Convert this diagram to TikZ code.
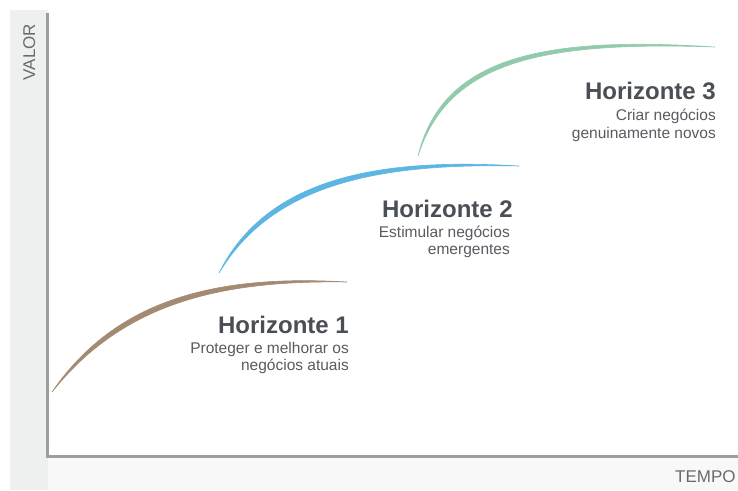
\documentclass[tikz,border=0pt]{standalone}
\usepackage{fontspec}
\setmainfont{Liberation Sans}
\definecolor{axisgray}{HTML}{9B9E9D}
\definecolor{stripgray}{HTML}{EEEFEF}
\definecolor{bottomgray}{HTML}{F8F8F8}
\definecolor{titlegray}{HTML}{4A4F55}
\definecolor{subgray}{HTML}{585C61}
\definecolor{labelgray}{HTML}{686B6D}
\definecolor{hbrown}{HTML}{A48A72}
\definecolor{hblue}{HTML}{5DB6E2}
\definecolor{hgreen}{HTML}{92CBAC}
\tikzset{
  htitle/.style={anchor=base east, inner sep=0pt, text=titlegray, font=\fontsize{24}{28}\selectfont\bfseries},
  hsub/.style={anchor=base east, inner sep=0pt, text=subgray, font=\fontsize{15.5}{18}\selectfont},
  axlabel/.style={inner sep=0pt, text=labelgray, font=\fontsize{17}{20}\selectfont},
  brush/.style={line width=0.6pt, line join=round},
  axisline/.style={draw=axisgray, line width=3pt}
}
\begin{document}
\begin{tikzpicture}[x=1pt,y=-1pt]
\useasboundingbox (0,0) rectangle (738,490);
\fill[white] (0,0) rectangle (738,490);
% background strips
\fill[bottomgray] (10,10) rectangle (738,490);
\fill[stripgray] (10,10) rectangle (48,490);
\fill[white] (48,10) rectangle (738,456);
% axes
\coordinate (top) at (47,13);
\coordinate (origin) at (47,456);
\coordinate (right) at (738,456);
\draw[axisline] (top) -- (origin) -- (right);
% axis labels
\node[axlabel, rotate=90, anchor=base] (valor) at (35,52) {VALOR};
\node[axlabel, anchor=base west] (tempo) at (675,482) {TEMPO};
% curves (tapered brush strokes)
\coordinate (b0) at (52,392);
\coordinate (b1) at (347,282);
\filldraw[brush, hbrown] (b0) .. controls (117,297) and (220,274.5) .. (b1)
   .. controls (220,280) and (123,303) .. (b0) -- cycle;
\coordinate (u0) at (219,273);
\coordinate (u1) at (519,166);
\filldraw[brush, hblue] (u0) .. controls (267,177) and (380,157.5) .. (u1)
   .. controls (380,163) and (273,183) .. (u0) -- cycle;
\coordinate (g0) at (418,156);
\coordinate (g1) at (715,47);
\filldraw[brush, hgreen] (g0) .. controls (442,58) and (540,35.5) .. (g1)
   .. controls (540,41) and (448,62) .. (g0) -- cycle;
% texts
\node[htitle] (h1) at (349,333) {Horizonte 1};
\node[hsub] (h1a) at (349,353) {Proteger e melhorar os};
\node[hsub] (h1b) at (349,370) {negócios atuais};
\node[htitle] (h2) at (513,217) {Horizonte 2};
\node[hsub] (h2a) at (510,237) {Estimular negócios};
\node[hsub] (h2b) at (510,254) {emergentes};
\node[htitle] (h3) at (716,99) {Horizonte 3};
\node[hsub] (h3a) at (716,120) {Criar negócios};
\node[hsub] (h3b) at (716,138) {genuinamente novos};
\end{tikzpicture}
\end{document}
